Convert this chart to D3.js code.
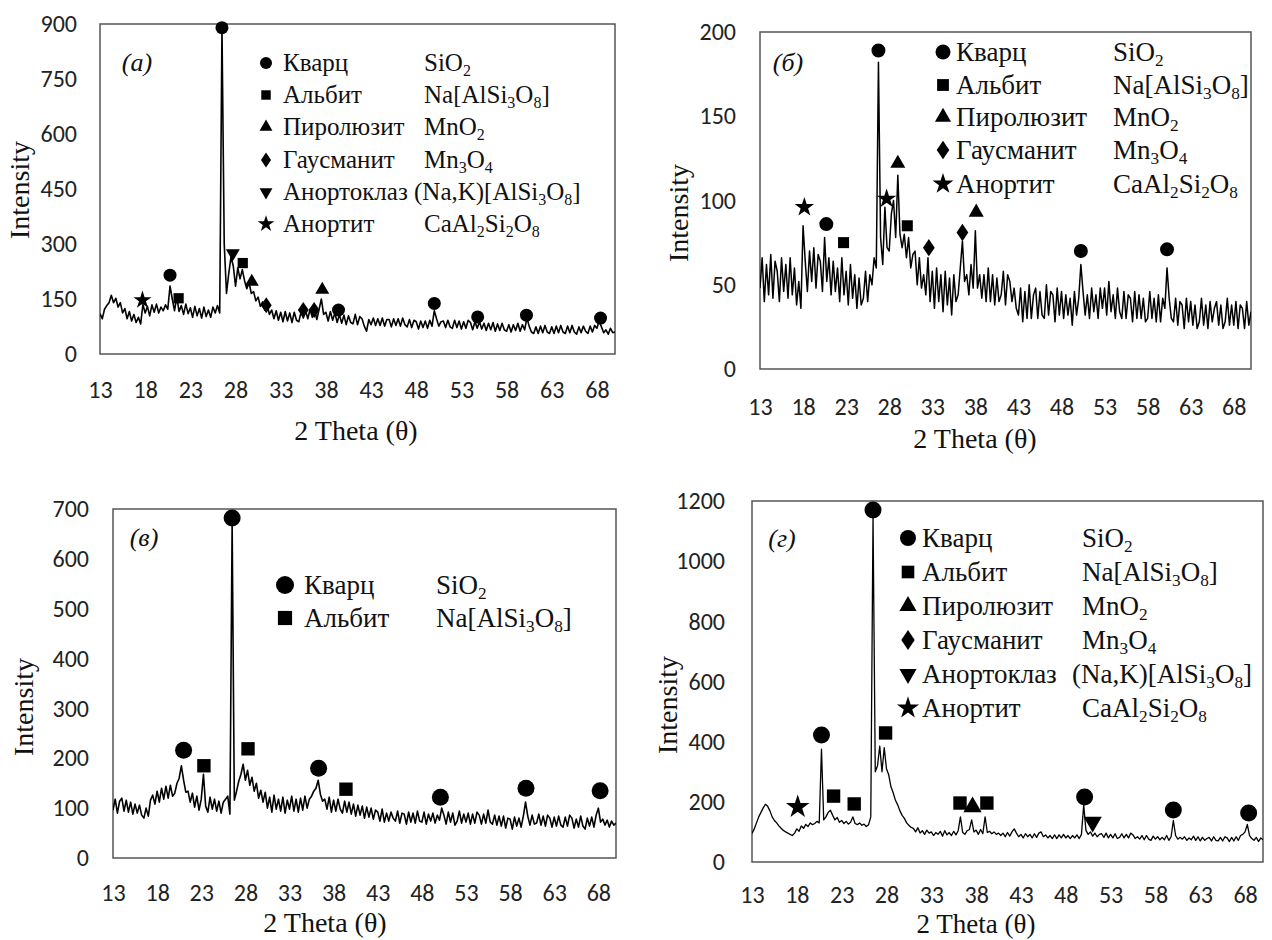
<!DOCTYPE html>
<html>
<head>
<meta charset="utf-8">
<script src="https://cdn.jsdelivr.net/npm/d3@7"></script>
<style>
  body { margin: 0; background: #fff; }
  svg { display: block; }
  .ticks text { font-family: Carlito, "Liberation Sans", Arial, sans-serif; fill: #222; }
  .serif { font-family: "Liberation Serif", "Times New Roman", serif; fill: #111; }
</style>
</head>
<body>
<svg width="1272" height="940"></svg>
<script>
// 2 theta grid of the scans
var thetaStart = 13
var thetaStep = 0.25
var xTicks = [13, 18, 23, 28, 33, 38, 43, 48, 53, 58, 63, 68]

// intensity, one value per 0.25 deg, 13 .. 70
var intensityA = [
  110, 96, 122, 132, 140, 160, 140, 152, 128, 140, 112, 124, 96, 116, 90, 108,
  86, 100, 82, 135, 112, 130, 104, 134, 114, 136, 112, 128, 118, 134, 122, 185,
  150, 118, 156, 116, 132, 108, 136, 110, 126, 100, 130, 104, 124, 98, 128, 102,
  120, 100, 128, 112, 132, 112, 890, 300, 165, 220, 265, 240, 185, 235, 205, 230,
  200, 178, 195, 165, 170, 145, 155, 130, 142, 120, 135, 108, 120, 96, 118, 92,
  114, 88, 116, 90, 112, 86, 114, 92, 88, 114, 98, 118, 96, 122, 100, 120,
  94, 122, 150, 108, 114, 90, 116, 92, 112, 86, 108, 84, 106, 80, 104, 86,
  82, 108, 80, 102, 96, 76, 62, 94, 80, 98, 78, 96, 78, 98, 76, 94,
  94, 74, 96, 78, 96, 76, 98, 80, 74, 94, 72, 92, 88, 68, 90, 72,
  90, 70, 92, 76, 118, 96, 76, 88, 90, 72, 92, 74, 70, 92, 72, 90,
  68, 88, 70, 92, 86, 66, 88, 70, 88, 68, 84, 64, 84, 66, 86, 62,
  82, 64, 84, 66, 62, 80, 60, 80, 64, 84, 62, 80, 66, 98, 76, 60,
  56, 74, 56, 76, 58, 78, 60, 56, 74, 56, 76, 58, 78, 60, 56, 76,
  58, 78, 60, 54, 74, 58, 76, 62, 56, 76, 60, 78, 70, 90, 74, 58,
  66, 54, 70, 58, 60
]
var intensityB = [
  48, 66, 40, 62, 44, 68, 42, 64, 58, 40, 66, 46, 62, 42, 66, 44,
  60, 38, 52, 36, 85, 64, 46, 70, 52, 72, 48, 68, 64, 46, 78, 52,
  66, 44, 64, 46, 60, 40, 66, 44, 58, 38, 62, 42, 56, 36, 54, 38,
  42, 58, 40, 56, 50, 66, 60, 182, 78, 62, 96, 72, 70, 92, 100, 78,
  115, 80, 72, 80, 66, 78, 60, 68, 70, 50, 66, 48, 56, 44, 66, 40,
  58, 36, 60, 40, 56, 34, 58, 38, 54, 32, 56, 40, 44, 60, 76, 52,
  56, 44, 62, 48, 82, 48, 56, 42, 56, 40, 60, 40, 56, 38, 54, 40,
  44, 58, 38, 56, 52, 40, 48, 36, 32, 48, 28, 46, 30, 50, 30, 44,
  48, 30, 46, 32, 30, 50, 32, 46, 44, 28, 48, 32, 46, 30, 44, 32,
  42, 26, 46, 32, 42, 62, 46, 32, 44, 30, 48, 34, 44, 30, 48, 36,
  48, 32, 52, 34, 44, 30, 48, 34, 30, 46, 30, 44, 42, 28, 46, 30,
  44, 30, 42, 28, 30, 46, 30, 42, 28, 44, 28, 42, 36, 60, 42, 30,
  28, 42, 26, 40, 38, 24, 42, 28, 40, 26, 38, 24, 28, 42, 26, 38,
  24, 40, 28, 36, 40, 26, 38, 24, 28, 42, 26, 38, 26, 40, 24, 38,
  36, 24, 40, 26, 34
]
var intensityC = [
  96, 118, 90, 114, 120, 94, 116, 92, 112, 88, 108, 90, 106, 86, 80, 100,
  84, 116, 126, 108, 134, 112, 140, 118, 144, 120, 146, 124, 130, 150, 160, 185,
  156, 132, 134, 112, 130, 102, 124, 96, 118, 168, 104, 92, 122, 98, 118, 94,
  114, 90, 112, 118, 124, 88, 672, 116, 134, 154, 168, 188, 156, 176, 146, 162,
  134, 150, 120, 136, 112, 132, 100, 122, 92, 126, 98, 118, 94, 122, 90, 116,
  98, 124, 94, 118, 92, 120, 96, 124, 100, 118, 124, 134, 140, 156, 128, 114,
  118, 98, 122, 92, 116, 94, 118, 98, 90, 114, 92, 112, 88, 108, 84, 106,
  86, 104, 80, 102, 82, 100, 78, 96, 92, 74, 98, 72, 90, 74, 92, 80,
  74, 94, 70, 90, 88, 68, 92, 72, 90, 70, 94, 74, 72, 92, 68, 88,
  74, 90, 70, 86, 76, 100, 86, 68, 92, 72, 90, 66, 74, 94, 70, 88,
  72, 90, 68, 88, 70, 92, 86, 68, 88, 70, 96, 72, 68, 86, 66, 84,
  64, 84, 60, 80, 78, 58, 82, 64, 80, 62, 84, 112, 84, 66, 86, 68,
  70, 88, 66, 84, 64, 86, 80, 62, 82, 64, 84, 66, 62, 82, 64, 86,
  80, 60, 78, 62, 84, 64, 58, 80, 64, 82, 62, 86, 100, 72, 78, 66,
  76, 62, 74, 66, 70
]
var intensityD = [
  95, 110, 130, 150, 165, 180, 192, 185, 170, 150, 138, 130, 120, 112, 105, 100,
  96, 92, 88, 96, 110, 102, 120, 112, 125, 118, 130, 124, 128, 135, 130, 375,
  140, 150, 165, 172, 155, 140, 148, 132, 138, 128, 135, 126, 132, 150, 128, 124,
  130, 122, 126, 118, 124, 150, 1150, 300, 320, 385, 300, 380, 310, 290, 250, 230,
  205, 190, 170, 155, 145, 130, 122, 115, 112, 100, 114, 96, 104, 92, 106, 96,
  100, 88, 98, 92, 102, 86, 104, 90, 98, 88, 102, 90, 104, 150, 98, 92,
  104, 108, 140, 100, 106, 92, 108, 94, 150, 98, 102, 94, 100, 92, 96, 88,
  96, 84, 98, 86, 100, 110, 96, 84, 92, 80, 94, 84, 92, 80, 94, 82,
  96, 100, 84, 90, 80, 88, 78, 90, 78, 90, 80, 92, 80, 88, 78, 88,
  80, 90, 78, 92, 190, 105, 92, 100, 86, 96, 84, 92, 94, 82, 96, 80,
  92, 80, 94, 78, 82, 94, 80, 92, 80, 96, 90, 78, 84, 76, 88, 74,
  88, 76, 72, 86, 76, 84, 74, 82, 74, 88, 72, 84, 138, 88, 76, 82,
  76, 84, 72, 80, 74, 86, 72, 84, 70, 82, 72, 78, 82, 70, 84, 72,
  70, 82, 70, 84, 80, 68, 82, 70, 84, 72, 88, 92, 100, 125, 88, 78,
  72, 82, 68, 80, 74
]

// phases: Q quartz, A albite, P pyrolusite, H hausmannite, N anorthoclase, C anorthite
var phaseKeys = ['Q', 'A', 'P', 'H', 'N', 'C']
var phaseNames = ['Кварц', 'Альбит', 'Пиролюзит', 'Гаусманит', 'Анортоклаз', 'Анортит']
var phaseFormulas = ['SiO_2', 'Na[AlSi_3O_8]', 'MnO_2', 'Mn_3O_4', '(Na,K)[AlSi_3O_8]', 'CaAl_2Si_2O_8']
var phaseSymbols = ['circle', 'square', 'triangle', 'diamond', 'down', 'star']

// peak markers: phase, 2 theta, intensity
var markersA = [
  ['C', 17.7, 147], ['Q', 20.75, 215], ['A', 21.7, 152], ['Q', 26.5, 890],
  ['N', 27.7, 275], ['A', 28.8, 248], ['P', 29.8, 197], ['H', 31.4, 133],
  ['H', 35.5, 120], ['H', 36.7, 120], ['P', 37.6, 175], ['Q', 39.4, 120],
  ['Q', 50.0, 138], ['Q', 54.8, 101], ['Q', 60.2, 106], ['Q', 68.4, 98]
]
var markersB = [
  ['C', 18.15, 96], ['Q', 20.7, 86], ['A', 22.7, 75], ['Q', 26.75, 189],
  ['C', 27.7, 101], ['P', 29.0, 122], ['A', 30.1, 85], ['H', 32.6, 72],
  ['H', 36.5, 81], ['P', 38.1, 93], ['Q', 50.25, 70], ['Q', 60.25, 71]
]
var markersC = [
  ['Q', 21.0, 216], ['A', 23.3, 185], ['Q', 26.5, 682], ['A', 28.3, 219],
  ['Q', 36.3, 180], ['A', 39.4, 138], ['Q', 50.1, 122], ['Q', 59.8, 140],
  ['Q', 68.2, 135]
]
var markersD = [
  ['C', 18.1, 183], ['Q', 20.75, 422], ['A', 22.1, 219], ['A', 24.4, 193],
  ['Q', 26.5, 1170], ['A', 27.9, 429], ['A', 36.2, 196], ['P', 37.6, 183],
  ['A', 39.2, 196], ['Q', 50.1, 216], ['N', 51.0, 133], ['Q', 60.0, 173],
  ['Q', 68.4, 163]
]

var legendA = ['Q', 'A', 'P', 'H', 'N', 'C']
var legendB = ['Q', 'A', 'P', 'H', 'C']
var legendC = ['Q', 'A']
var legendD = ['Q', 'A', 'P', 'H', 'N', 'C']

var yTicksA = [0, 150, 300, 450, 600, 750, 900]
var yTicksB = [0, 50, 100, 150, 200]
var yTicksC = [0, 100, 200, 300, 400, 500, 600, 700]
var yTicksD = [0, 200, 400, 600, 800, 1000, 1200]

var panels = [
  { letter: '(а)', data: intensityA, marks: markersA, legend: legendA, yTicks: yTicksA,
    L: 100, R: 615, T: 24, B: 354, labRight: 77, xPad: 27, ms: 13, lw: 1.6,
    xTitle: [356, 440], tfs: 28, yTitle: [20, 190], letterAt: [137, 63],
    lg: { mx: 266, tx: 283, fx: 424, rows: [63, 95, 127, 160, 192, 224], fs: 25, ms: 12 } },
  { letter: '(б)', data: intensityB, marks: markersB, legend: legendB, yTicks: yTicksB,
    L: 760, R: 1251, T: 32, B: 369, labRight: 736, xPad: 29, ms: 14, lw: 1.5,
    xTitle: [975, 448], tfs: 28, yTitle: [679, 213], letterAt: [788, 63],
    lg: { mx: 943, tx: 956, fx: 1113, rows: [52, 85, 117, 150, 184], fs: 27, ms: 15 } },
  { letter: '(в)', data: intensityC, marks: markersC, legend: legendC, yTicks: yTicksC,
    L: 113, R: 616, T: 509, B: 858, labRight: 89, xPad: 26, ms: 17, lw: 1.6,
    xTitle: [325, 932], tfs: 28, yTitle: [24, 707], letterAt: [144, 538],
    lg: { mx: 285, tx: 304, fx: 436, rows: [585, 618], fs: 27, ms: 18 } },
  { letter: '(г)', data: intensityD, marks: markersD, legend: legendD, yTicks: yTicksD,
    L: 752, R: 1263, T: 501, B: 862, labRight: 725, xPad: 24, ms: 17, lw: 1.3,
    xTitle: [976, 933], tfs: 27, yTitle: [668, 705], letterAt: [782, 539],
    lg: { mx: 908, tx: 922, fx: 1082, rows: [538, 572, 606, 640, 674, 708], fs: 27, ms: 16 } }
]

var svg = d3.select('svg')

function symbolPath (kind, D) {
  if (kind === 'circle') return d3.symbol(d3.symbolCircle, 0.785 * D * D)()
  if (kind === 'square') return d3.symbol(d3.symbolSquare, 0.62 * D * D)()
  if (kind === 'triangle' || kind === 'down') return d3.symbol(d3.symbolTriangle, 0.5 * D * D)()
  if (kind === 'star') return d3.symbol(d3.symbolStar, 0.6 * D * D)()
  // tall diamond
  var w = D * 0.42
  var h = D * 0.62
  return 'M0,' + (-h) + 'L' + w + ',0L0,' + h + 'L' + (-w) + ',0Z'
}

function kindOf (key) {
  return phaseSymbols[phaseKeys.indexOf(key)]
}

function drawSymbol (g, key, px, py, D) {
  var kind = kindOf(key)
  g.append('path')
    .attr('d', symbolPath(kind, D))
    .attr('transform', 'translate(' + px + ',' + py + ')' + (kind === 'down' ? ' rotate(180)' : ''))
    .attr('fill', '#000')
}

function addFormula (text, str, fs) {
  var parts = str.split(/_(\d)/)
  var shift = fs * 0.2
  var down = false
  parts.forEach(function (p, i) {
    if (!p) return
    var t = text.append('tspan').text(p)
    if (i % 2 === 1) {
      t.attr('font-size', fs * 0.64).attr('dy', down ? 0 : shift)
      down = true
    } else if (down) {
      t.attr('dy', -shift)
      down = false
    }
  })
}

panels.forEach(function (p, pi) {
  var g = svg.append('g')

  var x = d3.scaleLinear().domain([13, 70]).range([p.L, p.R])
  var y = d3.scaleLinear().domain([0, p.yTicks[p.yTicks.length - 1]]).range([p.B, p.T])

  g.append('clipPath').attr('id', 'clip' + pi)
    .append('rect').attr('x', p.L).attr('y', p.T - 12).attr('width', p.R - p.L).attr('height', p.B - p.T + 12)

  // plot frame
  g.append('rect')
    .attr('x', p.L).attr('y', p.T).attr('width', p.R - p.L).attr('height', p.B - p.T)
    .attr('fill', 'none').attr('stroke', '#555').attr('stroke-width', 1.5)

  // axes labels
  g.append('g').attr('class', 'ticks')
    .attr('transform', 'translate(' + p.L + ',0)')
    .call(d3.axisLeft(y).tickValues(p.yTicks).tickFormat(d3.format('d')).tickSize(0).tickPadding(p.L - p.labRight))
    .call(function (a) { a.select('.domain').remove() })
    .attr('font-size', 24)

  g.append('g').attr('class', 'ticks')
    .attr('transform', 'translate(0,' + p.B + ')')
    .call(d3.axisBottom(x).tickValues(xTicks).tickSize(0).tickPadding(p.xPad))
    .call(function (a) { a.select('.domain').remove() })
    .attr('font-size', 24)

  // scan
  var line = d3.line()
    .x(function (d, i) { return x(thetaStart + i * thetaStep) })
    .y(function (d) { return y(d) })

  g.append('path')
    .datum(p.data)
    .attr('d', line)
    .attr('clip-path', 'url(#clip' + pi + ')')
    .attr('fill', 'none')
    .attr('stroke', '#000')
    .attr('stroke-width', p.lw)
    .attr('stroke-linejoin', 'round')

  // peak markers
  p.marks.forEach(function (m) {
    drawSymbol(g, m[0], x(m[1]), y(m[2]), p.ms)
  })

  // titles (xTitle y is the baseline)
  g.append('text').attr('class', 'serif')
    .attr('x', p.xTitle[0]).attr('y', p.xTitle[1])
    .attr('text-anchor', 'middle').attr('font-size', p.tfs)
    .text('2 Theta (θ)')

  g.append('text').attr('class', 'serif')
    .attr('transform', 'translate(' + (p.yTitle[0] + 9) + ',' + p.yTitle[1] + ') rotate(-90)')
    .attr('text-anchor', 'middle').attr('font-size', 28)
    .text('Intensity')

  g.append('text').attr('class', 'serif')
    .attr('x', p.letterAt[0]).attr('y', p.letterAt[1] + 8)
    .attr('text-anchor', 'middle').attr('font-size', 26).attr('font-style', 'italic')
    .text(p.letter)

  // legend
  p.legend.forEach(function (key, i) {
    var k = phaseKeys.indexOf(key)
    var ry = p.lg.rows[i]
    drawSymbol(g, key, p.lg.mx, ry, p.lg.ms)
    g.append('text').attr('class', 'serif')
      .attr('x', p.lg.tx).attr('y', ry + p.lg.fs * 0.33)
      .attr('font-size', p.lg.fs)
      .text(phaseNames[k])
    var ft = g.append('text').attr('class', 'serif')
      .attr('x', p.lg.fx - (key === 'N' ? 10 : 0)).attr('y', ry + p.lg.fs * 0.33)
      .attr('font-size', p.lg.fs)
    addFormula(ft, phaseFormulas[k], p.lg.fs)
  })
})
</script>
</body>
</html>
